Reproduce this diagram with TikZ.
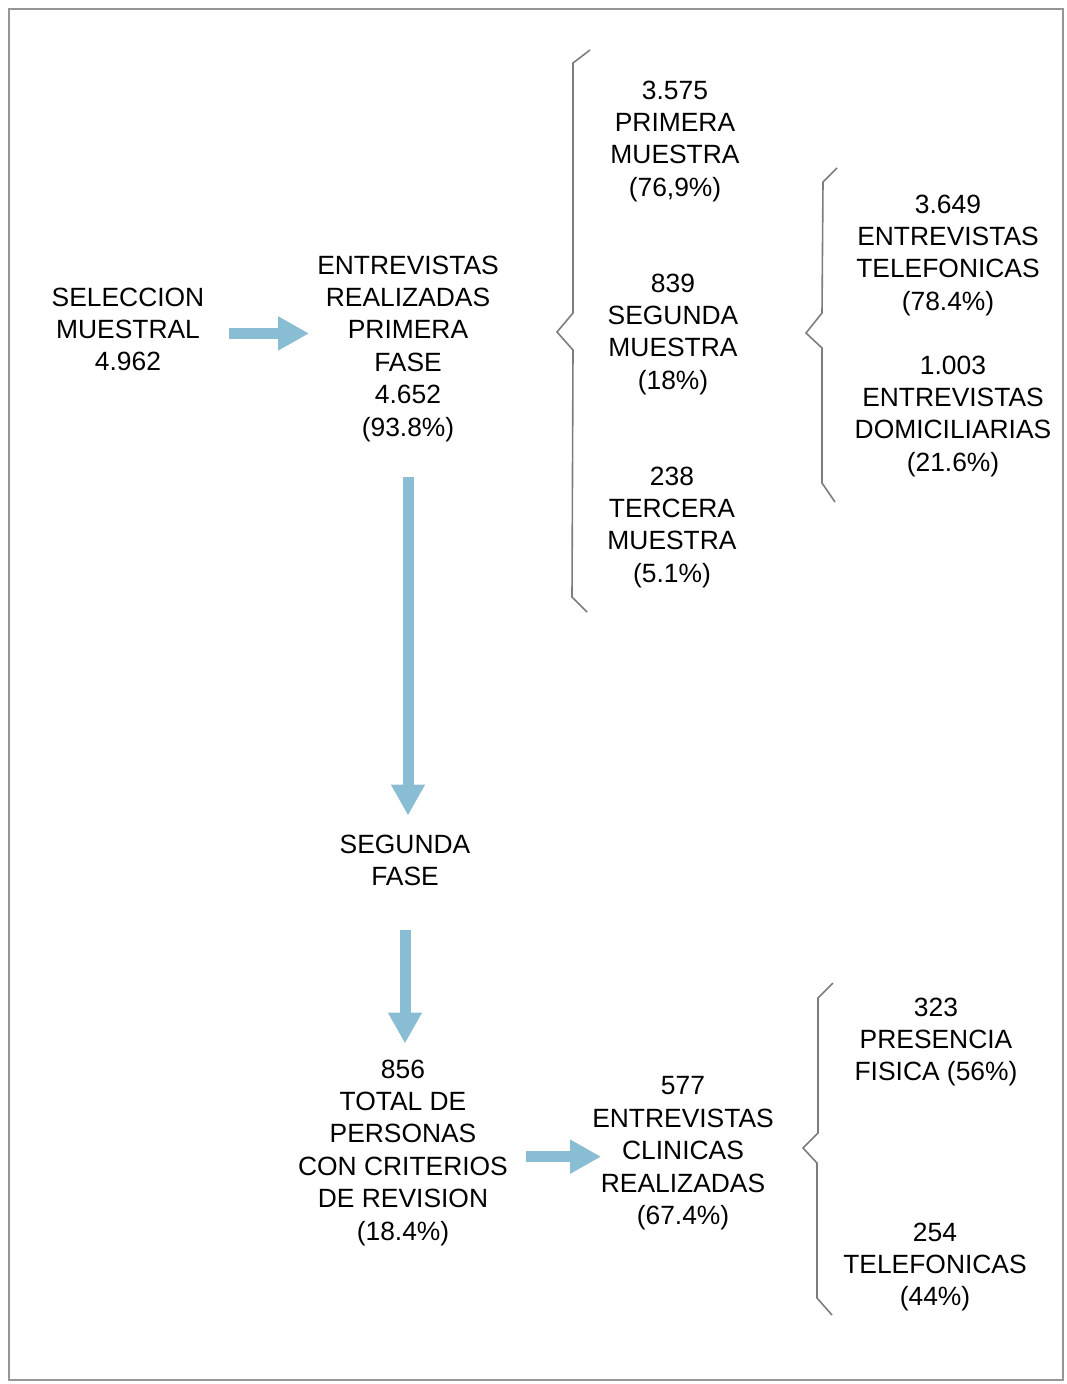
\documentclass[tikz,border=0pt]{standalone}
\usepackage{fontspec}
\setmainfont{Liberation Sans}
\usepackage{tikz}
\usetikzlibrary{arrows.meta, calc, positioning}
\definecolor{flechablue}{RGB}{137,189,211}
\definecolor{llavegray}{RGB}{125,125,125}
\definecolor{marcogray}{RGB}{150,150,150}

\begin{document}
\begin{tikzpicture}[x=1pt, y=-1pt,
		every node/.style={font=\fontsize{26.4}{32.4}\selectfont, align=center, anchor=north, inner sep=0pt, text=black},
		flecha/.style={flechablue, line width=11pt, -{Triangle[length=31pt, width=32pt]}},
		llave/.style={llavegray, line width=1.6pt, line join=miter}]
		\useasboundingbox (0,0) rectangle (1067,1384);
		\draw[marcogray, line width=1.5pt] (9,9) rectangle (1063,1380);
		
		\node (sel) at (128,287.5) {SELECCION\\MUESTRAL\\4.962};
		\node (ent1) at (408,255.5) {ENTREVISTAS\\REALIZADAS\\PRIMERA\\FASE\\4.652\\(93.8\%)};
		\node (m1) at (675,80.5) {3.575\\PRIMERA\\MUESTRA\\(76,9\%)};
		\node (m2) at (673,273.5) {839\\SEGUNDA\\MUESTRA\\(18\%)};
		\node (m3) at (672,466.5) {238\\TERCERA\\MUESTRA\\(5.1\%)};
		\node (tel) at (948,194.5) {3.649\\ENTREVISTAS\\TELEFONICAS\\(78.4\%)};
		\node (dom) at (953,355.5) {1.003\\ENTREVISTAS\\DOMICILIARIAS\\(21.6\%)};
		\node (seg) at (405,834.5) {SEGUNDA\\FASE};
		\node (tot) at (403,1059.5) {856\\TOTAL DE\\PERSONAS\\CON CRITERIOS\\DE REVISION\\(18.4\%)};
		\node (cli) at (683,1076.5) {577\\ENTREVISTAS\\CLINICAS\\REALIZADAS\\(67.4\%)};
		\node (pre) at (936,997.5) {323\\PRESENCIA\\FISICA (56\%)};
		\node (tel2) at (935,1222.5) {254\\TELEFONICAS\\(44\%)};
		
		\draw[flecha, shorten <=25pt, shorten >=8pt] ([yshift=-4pt]sel.east) -- ([yshift=-4pt]sel.east -| ent1.west);
		\draw[flecha, shorten <=35pt, shorten >=19pt] (ent1.south) -- (ent1.south |- seg.north);
		\draw[flecha, shorten <=44pt, shorten >=16pt] (seg.south) -- (seg.south |- tot.north);
		\draw[flecha, shorten <=18pt, shorten >=-9pt] ([yshift=-4pt]tot.east) -- ([yshift=-4pt]tot.east -| cli.west);
		
		\draw[llave] (590,50) -- (573,63) -- (573,313) -- (557,332) -- (573,350) -- (572,597) -- (587,612);
		\draw[llave] (837,168) -- (823,182) -- (822,313) -- (806,333) -- (822,348) -- (822,483) -- (835,502);
		\draw[llave] (833,983) -- (818,998) -- (818,1133) -- (803,1148) -- (817,1163) -- (817,1298) -- (832,1315);
\end{tikzpicture}
\end{document}
